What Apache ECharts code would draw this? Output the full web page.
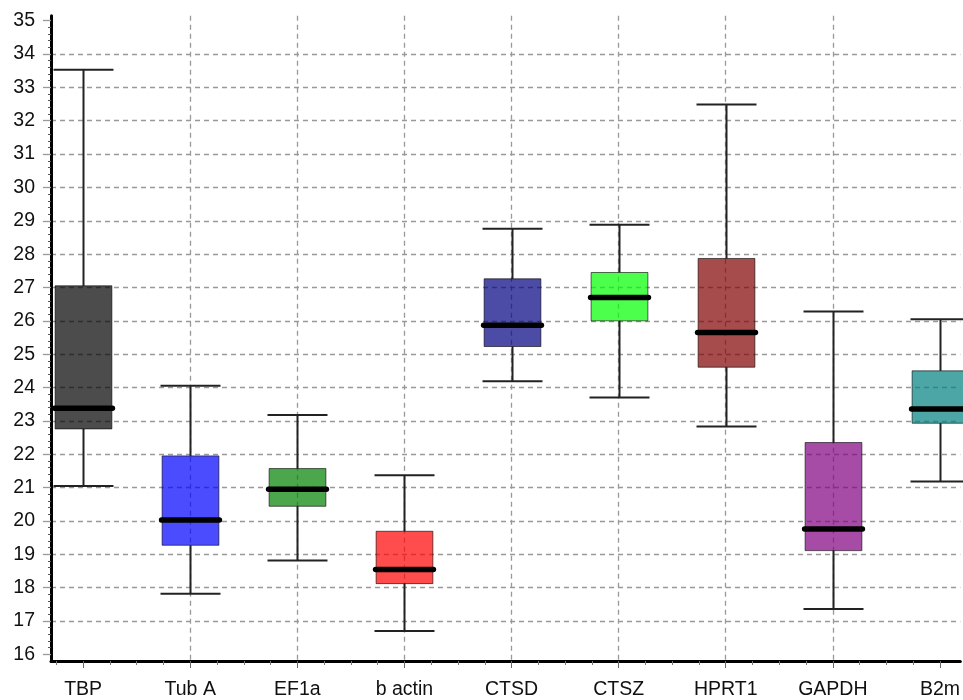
<!DOCTYPE html>
<html>
<head>
<meta charset="utf-8">
<title>Reference gene Ct distribution</title>
<script src="https://cdn.jsdelivr.net/npm/echarts@6/dist/echarts.min.js"></script>
<style>
  html, body { margin: 0; padding: 0; background: #ffffff; }
  #chart { width: 963px; height: 700px; }
</style>
</head>
<body>
<div id="chart"></div>
<script>
// Candidate reference genes and their Ct spread (whiskers, quartiles, median)
const genes       = ['TBP', 'Tub A', 'EF1a', 'b actin', 'CTSD', 'CTSZ', 'HPRT1', 'GAPDH', 'B2m'];
const whiskerLow  = [21.05, 17.82, 18.81, 16.70, 24.19, 23.70, 22.83, 17.36, 21.18];
const quartile1   = [22.76, 19.27, 20.44, 18.12, 25.23, 26.00, 24.61, 19.11, 22.93];
const medians     = [23.38, 20.03, 20.95, 18.54, 25.87, 26.70, 25.65, 19.76, 23.36];
const quartile3   = [27.05, 21.95, 21.57, 19.69, 27.26, 27.45, 27.87, 22.35, 24.50];
const whiskerHigh = [33.53, 24.05, 23.18, 21.37, 28.76, 28.88, 32.49, 26.28, 26.05];
const boxColors   = ['#000000', '#0000ff', '#008000', '#ff0000', '#000080', '#00ff00', '#800000', '#800080', '#008080'];
const yTickValues = [16, 17, 18, 19, 20, 21, 22, 23, 24, 25, 26, 27, 28, 29, 30, 31, 32, 33, 34, 35];
const xTickValues = genes.map((g, i) => i);

const boxData = genes.map((g, i) => [i, whiskerLow[i], quartile1[i], medians[i], quartile3[i], whiskerHigh[i]]);

const FONT = "'Liberation Sans', Arial, sans-serif";

function renderBox(params, api) {
  const i = api.value(0);
  const lo = api.coord([i, api.value(1)]);
  const q1 = api.coord([i, api.value(2)]);
  const md = api.coord([i, api.value(3)]);
  const q3 = api.coord([i, api.value(4)]);
  const hi = api.coord([i, api.value(5)]);
  const unit = api.size([1, 0])[0];
  const boxHalf = unit * 0.265;
  const capHalf = unit * 0.28;
  const medHalf = unit * 0.27;
  const x = Math.round(lo[0]) + 0.5;
  const whisker = { stroke: '#222222', lineWidth: 2 };
  return {
    type: 'group',
    children: [
      { type: 'line', shape: { x1: x, y1: hi[1], x2: x, y2: q3[1] }, style: whisker },
      { type: 'line', shape: { x1: x, y1: q1[1], x2: x, y2: lo[1] }, style: whisker },
      { type: 'line', shape: { x1: x - capHalf, y1: hi[1], x2: x + capHalf, y2: hi[1] }, style: whisker },
      { type: 'line', shape: { x1: x - capHalf, y1: lo[1], x2: x + capHalf, y2: lo[1] }, style: whisker },
      {
        type: 'rect',
        shape: { x: x - boxHalf, y: q3[1], width: boxHalf * 2, height: q1[1] - q3[1] },
        style: { fill: boxColors[params.dataIndex], fillOpacity: 0.7, stroke: 'rgba(0,0,0,0.6)', lineWidth: 1 }
      },
      {
        type: 'line',
        shape: { x1: x - medHalf, y1: md[1], x2: x + medHalf, y2: md[1] },
        style: { stroke: '#000000', lineWidth: 5.5, lineCap: 'round' }
      }
    ]
  };
}

const chart = echarts.init(document.getElementById('chart'), null, { renderer: 'canvas' });

chart.setOption({
  backgroundColor: '#ffffff',
  animation: false,
  grid: { left: 51, top: 15.7, right: 0, bottom: 38.4, containLabel: false },
  xAxis: {
    type: 'value',
    min: -0.3,
    max: 8.19,
    minInterval: 1,
    maxInterval: 1,
    axisLine: { show: true, onZero: false, lineStyle: { color: '#000000', width: 3 } },
    axisTick: { show: true, length: 7, customValues: xTickValues, lineStyle: { color: '#666666', width: 1 } },
    minorTick: { show: true, splitNumber: 4, length: 4, lineStyle: { color: '#777777', width: 1 } },
    axisLabel: {
      customValues: xTickValues,
      margin: 19,
      color: '#111111',
      fontSize: 19.5,
      fontFamily: FONT,
      formatter: v => (Number.isInteger(v) && genes[v] !== undefined ? genes[v] : '')
    },
    splitLine: {
      show: true, showMinLine: false, showMaxLine: false,
      lineStyle: { color: '#999999', width: 1.3, type: [5, 4] }
    }
  },
  yAxis: {
    type: 'value',
    min: 15.8,
    max: 35.15,
    minInterval: 1,
    maxInterval: 1,
    axisLine: { show: true, onZero: false, lineStyle: { color: '#000000', width: 3 } },
    axisTick: { show: true, length: 8, customValues: yTickValues, lineStyle: { color: '#999999', width: 1.3 } },
    minorTick: { show: true, splitNumber: 5, length: 3, lineStyle: { color: '#555555', width: 1 } },
    axisLabel: {
      customValues: yTickValues,
      margin: 16,
      color: '#111111',
      fontSize: 19.5,
      fontFamily: FONT,
      formatter: v => (Number.isInteger(v) ? String(v) : '')
    },
    splitLine: {
      show: true, showMinLine: false, showMaxLine: false,
      lineStyle: { color: '#999999', width: 1.3, type: [5, 4] }
    }
  },
  series: [{
    type: 'custom',
    name: 'Ct',
    renderItem: renderBox,
    encode: { x: 0, y: [1, 2, 3, 4, 5] },
    data: boxData,
    clip: false,
    z: 3
  }]
});
</script>
</body>
</html>
